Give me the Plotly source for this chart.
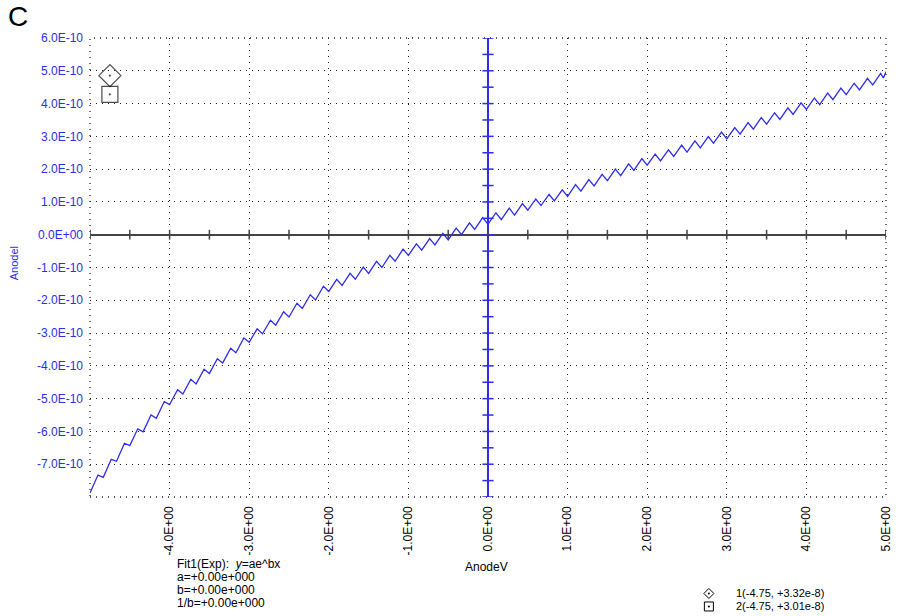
import plotly.graph_objects as go

# ---- data (current in units of 1e-10 A) ----
anode_v = [
    -5.000, -4.900, -4.833, -4.733, -4.667, -4.567, -4.500, -4.400, -4.333, -4.233, -4.167, -4.067,
    -4.000, -3.900, -3.833, -3.733, -3.667, -3.567, -3.500, -3.400, -3.333, -3.233, -3.167, -3.067,
    -3.000, -2.900, -2.833, -2.733, -2.667, -2.567, -2.500, -2.400, -2.333, -2.233, -2.167, -2.067,
    -2.000, -1.900, -1.833, -1.733, -1.667, -1.567, -1.500, -1.400, -1.333, -1.233, -1.167, -1.067,
    -1.000, -0.900, -0.833, -0.733, -0.667, -0.567, -0.500, -0.400, -0.333, -0.233, -0.167, -0.067,
    0.000, 0.100, 0.167, 0.267, 0.333, 0.433, 0.500, 0.600, 0.667, 0.767, 0.833, 0.933,
    1.000, 1.100, 1.167, 1.267, 1.333, 1.433, 1.500, 1.600, 1.667, 1.767, 1.833, 1.933,
    2.000, 2.100, 2.167, 2.267, 2.333, 2.433, 2.500, 2.600, 2.667, 2.767, 2.833, 2.933,
    3.000, 3.100, 3.167, 3.267, 3.333, 3.433, 3.500, 3.600, 3.667, 3.767, 3.833, 3.933,
    4.000, 4.100, 4.167, 4.267, 4.333, 4.433, 4.500, 4.600, 4.667, 4.767, 4.833, 4.933,
    4.967, 5.000,
]
anode_i_e10 = [
    -7.88, -7.33, -7.40, -6.85, -6.91, -6.36, -6.43, -5.92, -6.01, -5.50, -5.60, -5.09,
    -5.18, -4.73, -4.86, -4.41, -4.55, -4.10, -4.23, -3.78, -3.91, -3.46, -3.60, -3.15,
    -3.28, -2.87, -3.02, -2.61, -2.76, -2.35, -2.51, -2.09, -2.25, -1.83, -1.99, -1.57,
    -1.73, -1.36, -1.55, -1.18, -1.36, -0.99, -1.18, -0.81, -1.00, -0.63, -0.81, -0.44,
    -0.63, -0.28, -0.47, -0.12, -0.31, 0.04, -0.16, 0.20, 0.00, 0.36, 0.16, 0.52,
    0.32, 0.67, 0.46, 0.81, 0.60, 0.95, 0.75, 1.09, 0.89, 1.23, 1.03, 1.37,
    1.17, 1.53, 1.33, 1.68, 1.49, 1.84, 1.65, 2.00, 1.80, 2.16, 1.96, 2.32,
    2.12, 2.46, 2.25, 2.59, 2.39, 2.73, 2.52, 2.86, 2.65, 2.99, 2.79, 3.13,
    2.92, 3.27, 3.07, 3.42, 3.22, 3.57, 3.37, 3.72, 3.52, 3.87, 3.67, 4.02,
    3.82, 4.17, 3.97, 4.32, 4.12, 4.47, 4.27, 4.62, 4.42, 4.77, 4.57, 4.92,
    4.78, 4.97,
]
anode_i = [v * 1e-10 for v in anode_i_e10]

x_tickvals = [-5, -4, -3, -2, -1, 0, 1, 2, 3, 4, 5]
x_ticktext = ["", "-4.0E+00", "-3.0E+00", "-2.0E+00", "-1.0E+00", "0.0E+00",
              "1.0E+00", "2.0E+00", "3.0E+00", "4.0E+00", "5.0E+00"]
y_tickvals_e10 = [6, 5, 4, 3, 2, 1, 0, -1, -2, -3, -4, -5, -6, -7, -8]
y_ticktext = ["6.0E-10", "5.0E-10", "4.0E-10", "3.0E-10", "2.0E-10", "1.0E-10", "0.0E+00",
              "-1.0E-10", "-2.0E-10", "-3.0E-10", "-4.0E-10", "-5.0E-10", "-6.0E-10", "-7.0E-10", ""]
y_tickvals = [v * 1e-10 for v in y_tickvals_e10]

# minor tick marks drawn on the zero axes
x_minor = [-5 + 0.5 * i for i in range(21)]
y_minor = [(-8 + 0.5 * i) * 1e-10 for i in range(29)]

# cursor markers
cursor_x = [-4.75, -4.75]
cursor_y = [4.85e-10, 4.28e-10]
cursor_symbols = ["diamond-open-dot", "square-open-dot"]

# read-out texts
fit_lines = ["Fit1(Exp):  <i>y</i>=ae^bx", "a=+0.00e+000", "b=+0.00e+000", "1/b=+0.00e+000"]
cursor_lines = ["1(-4.75, +3.32e-8)", "2(-4.75, +3.01e-8)"]

BLUE = "rgb(45,45,235)"
FONT = "Arial, Liberation Sans, sans-serif"

# paper-space layout helpers (fractions of plot area)
fit_x, fit_y0, line_step = 0.10625, -0.146, 0.0283
leg_sym_x, leg_txt_x, leg_y0, leg_step = 0.7775, 0.80875, -0.2102, 0.0283

fig = go.Figure()
fig.add_trace(go.Scatter(x=[0] * len(y_minor), y=y_minor, mode="markers",
                         marker=dict(symbol="line-ew", size=8, line=dict(color=BLUE, width=1.5)),
                         hoverinfo="skip", showlegend=False))
fig.add_trace(go.Scatter(x=x_minor, y=[0] * len(x_minor), mode="markers",
                         marker=dict(symbol="line-ns", size=7, line=dict(color="#444", width=1.5)),
                         hoverinfo="skip", showlegend=False))
fig.add_trace(go.Scatter(x=anode_v, y=anode_i, mode="lines",
                         line=dict(color=BLUE, width=1.3), showlegend=False))
fig.add_trace(go.Scatter(x=cursor_x, y=cursor_y, mode="markers",
                         marker=dict(symbol=cursor_symbols, size=[17, 16], color="black",
                                     line=dict(color="black", width=1.2)),
                         showlegend=False, cliponaxis=False))

fig.update_layout(xaxis=dict(range=[-5, 5], tickvals=x_tickvals, ticktext=x_ticktext, tickangle=-90,
                             showgrid=True, gridcolor="#222", griddash="1px,5px", gridwidth=1.3,
                             zeroline=True, zerolinecolor=BLUE, zerolinewidth=2,
                             showline=False, ticks="", ticklabelstandoff=6,
                             tickfont=dict(family=FONT, size=12, color="black")),
                  yaxis=dict(range=[-8e-10, 6e-10], tickvals=y_tickvals, ticktext=y_ticktext,
                             showgrid=True, gridcolor="#222", griddash="1px,5px", gridwidth=1.3,
                             zeroline=True, zerolinecolor="#444", zerolinewidth=2,
                             showline=False, ticks="", ticklabelstandoff=6,
                             tickfont=dict(family=FONT, size=12, color=BLUE)))

annotations = [
    dict(text="C", x=-0.09, y=1.046, xref="paper", yref="paper", showarrow=False,
         xanchor="center", yanchor="middle", font=dict(family=FONT, size=28, color="black")),
    dict(text="Anodel", x=-0.095, y=0.51, xref="paper", yref="paper", showarrow=False,
         textangle=-90, xanchor="center", yanchor="middle",
         font=dict(family=FONT, size=11, color=BLUE)),
    dict(text="AnodeV", x=0.4975, y=-0.1525, xref="paper", yref="paper", showarrow=False,
         xanchor="center", yanchor="middle", font=dict(family=FONT, size=12, color="black")),
]
for i, t in enumerate(fit_lines):
    annotations.append(dict(text=t, x=fit_x, y=fit_y0 - i * line_step, xref="paper", yref="paper",
                            showarrow=False, xanchor="left", yanchor="middle",
                            font=dict(family=FONT, size=12, color="black")))
for i, t in enumerate(cursor_lines):
    annotations.append(dict(text=t, x=leg_txt_x, y=leg_y0 - i * leg_step, xref="paper", yref="paper",
                            showarrow=False, xanchor="left", yanchor="middle",
                            font=dict(family=FONT, size=11, color="black")))

# plot frame (dotted) and the read-out legend symbols (pixel-sized shapes)
shapes = [dict(type="rect", xref="paper", yref="paper", x0=0, y0=0, x1=1, y1=1,
               line=dict(color="#222", width=1.3, dash="1px,5px"), layer="below")]
sym_line = dict(color="black", width=1)
d_y = leg_y0
s_y = leg_y0 - leg_step
shapes += [
    dict(type="path", xref="paper", yref="paper", xsizemode="pixel", ysizemode="pixel",
         xanchor=leg_sym_x, yanchor=d_y, path="M 0,5 L 5,0 L 0,-5 L -5,0 Z", line=sym_line),
    dict(type="circle", xref="paper", yref="paper", xsizemode="pixel", ysizemode="pixel",
         xanchor=leg_sym_x, yanchor=d_y, x0=-1, x1=1, y0=-1, y1=1,
         line=dict(width=0), fillcolor="black"),
    dict(type="rect", xref="paper", yref="paper", xsizemode="pixel", ysizemode="pixel",
         xanchor=leg_sym_x, yanchor=s_y, x0=-4.5, x1=4.5, y0=-4.5, y1=4.5, line=sym_line),
    dict(type="circle", xref="paper", yref="paper", xsizemode="pixel", ysizemode="pixel",
         xanchor=leg_sym_x, yanchor=s_y, x0=-1, x1=1, y0=-1, y1=1,
         line=dict(width=0), fillcolor="black"),
]

fig.update_layout(width=905, height=616, margin=dict(l=90, r=15, t=38, b=119),
                  paper_bgcolor="white", plot_bgcolor="white",
                  font=dict(family=FONT), annotations=annotations, shapes=shapes, showlegend=False)

fig.write_html("out.html")
